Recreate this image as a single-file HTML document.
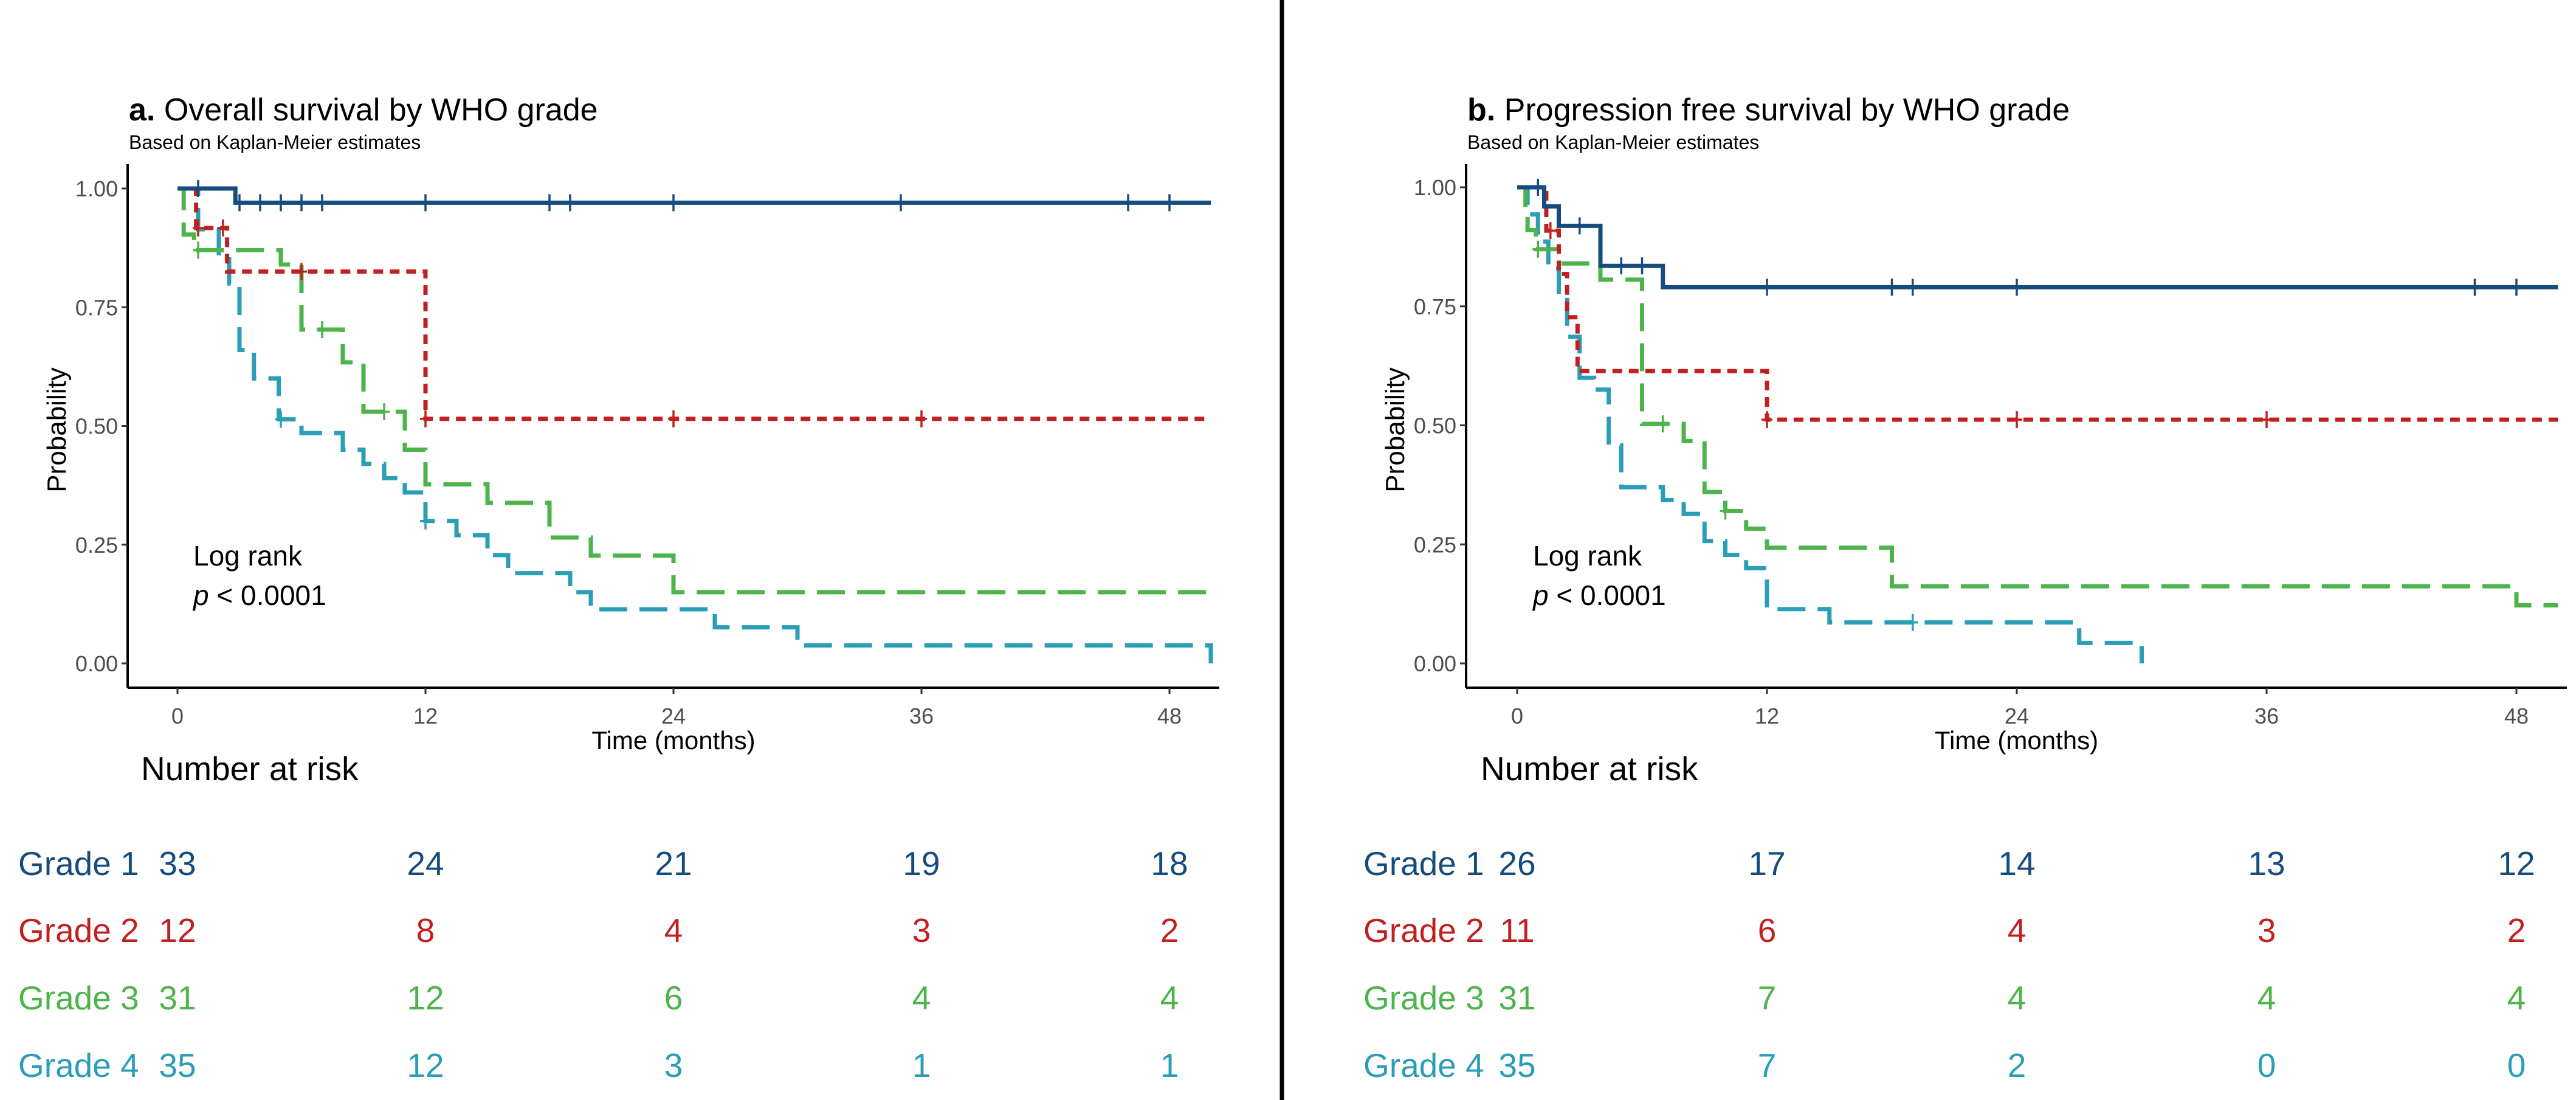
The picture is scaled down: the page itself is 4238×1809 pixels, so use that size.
<!DOCTYPE html>
<html><head><meta charset="utf-8"><style>
html,body{margin:0;padding:0;background:#fff;}
svg{display:block;font-family:"Liberation Sans",sans-serif;}
</style></head><body>
<svg id="fig" width="4238" height="1809" viewBox="0 0 4238 1809" xmlns="http://www.w3.org/2000/svg">
<rect width="4238" height="1809" fill="#fff"/>
<line x1="2109" y1="0" x2="2109" y2="1809" stroke="#000" stroke-width="7"/>
<g id="pa"></g>
<g id="pb"></g>
</svg>
<script>
// ---- Data ----
const xTicks = [0, 12, 24, 36, 48];
const yTicks = [0, 0.25, 0.5, 0.75, 1];
const yTickLabels = ["0.00", "0.25", "0.50", "0.75", "1.00"];
const gradeNames = ["Grade 1", "Grade 2", "Grade 3", "Grade 4"];

// Panel a: overall survival
const osG1Times = [0, 2.8, 50];
const osG1Surv  = [1, 0.97, 0.97];
const osG1Cens  = [1, 3, 4, 5, 6, 7, 12, 18, 19, 24, 35, 46, 48];
const osG2Times = [0, 0.9, 2.4, 12, 50];
const osG2Surv  = [1, 0.917, 0.825, 0.515, 0.515];
const osG2Cens  = [1, 2.2, 6, 12, 24, 36];
const osG3Times = [0, 0.3, 0.8, 5, 6, 8, 9, 11, 12, 15, 18, 20, 24, 50];
const osG3Surv  = [1, 0.903, 0.87, 0.84, 0.703, 0.634, 0.53, 0.45, 0.377, 0.338, 0.265, 0.227, 0.15, 0.15];
const osG3Cens  = [1, 7, 10];
const osG4Times = [0, 1, 2, 2.5, 3, 3.7, 4.9, 6, 8, 9, 10, 11, 12, 13.5, 15, 16, 19, 20, 26, 30, 50];
const osG4Surv  = [1, 0.914, 0.857, 0.80, 0.66, 0.60, 0.514, 0.485, 0.45, 0.42, 0.39, 0.36, 0.30, 0.27, 0.228, 0.19, 0.15, 0.114, 0.076, 0.038, 0];
const osG4Cens  = [5, 12];
const osRisk = [[33, 24, 21, 19, 18], [12, 8, 4, 3, 2], [31, 12, 6, 4, 4], [35, 12, 3, 1, 1]];

// Panel b: progression free survival
const pfsG1Times = [0, 1.3, 2, 4, 7, 50];
const pfsG1Surv  = [1, 0.96, 0.919, 0.835, 0.79, 0.79];
const pfsG1Cens  = [1, 3, 5, 6, 12, 18, 19, 24, 46, 48];
const pfsG2Times = [0, 1.4, 2, 2.4, 2.9, 12, 50];
const pfsG2Surv  = [1, 0.909, 0.818, 0.727, 0.614, 0.512, 0.512];
const pfsG2Cens  = [1, 1.6, 12, 24, 36];
const pfsG3Times = [0, 0.4, 0.5, 0.9, 2, 4, 6, 8, 9, 10, 11, 12, 18, 48, 50];
const pfsG3Surv  = [1, 0.956, 0.91, 0.87, 0.84, 0.806, 0.503, 0.467, 0.36, 0.32, 0.283, 0.243, 0.162, 0.122, 0.122];
const pfsG3Cens  = [1, 7, 10];
const pfsG4Times = [0, 0.5, 1, 1.5, 2, 2.4, 3, 3.7, 4.4, 5, 7, 8, 9, 10, 11, 12, 15, 27, 30];
const pfsG4Surv  = [1, 0.943, 0.886, 0.829, 0.77, 0.686, 0.60, 0.575, 0.458, 0.37, 0.343, 0.314, 0.257, 0.228, 0.2, 0.114, 0.086, 0.043, 0];
const pfsG4Cens  = [19];
const pfsRisk = [[26, 17, 14, 13, 12], [11, 6, 4, 3, 2], [31, 7, 4, 4, 4], [35, 7, 2, 0, 0]];

const colors = ["#164b7d", "#c2201f", "#4db34b", "#2a9db7"];
const dashes = ["none", "16 11", "46 20", "46 20"];

const NS = "http://www.w3.org/2000/svg";
function mk(parent, tag, attrs, text){
  const e = document.createElementNS(NS, tag);
  for (const k in attrs) e.setAttribute(k, attrs[k]);
  if (text !== undefined) e.textContent = text;
  parent.appendChild(e);
  return e;
}

function panel(g, cfg){
  const x = t => cfg.x0 + t * cfg.pxm;
  const y = p => cfg.yb - p * (cfg.yb - cfg.yt);
  const tt = mk(g, "text", {x: cfg.ax + 2, y: 198, "font-size": 52, fill: "#000"});
  
  
  mk(tt, "tspan", {"font-weight": "bold"}, cfg.letter + " ");
  mk(tt, "tspan", {}, cfg.title);
  const st = mk(g, "text", {x: cfg.ax + 2, y: 245, "font-size": 32, fill: "#000"}, "Based on Kaplan-Meier estimates");
  
  
  const ya = mk(g, "line", {x1: cfg.ax, y1: 270, x2: cfg.ax, y2: 1131, stroke: "#000", "stroke-width": 4});
  
  
  const xa = mk(g, "line", {x1: cfg.ax, y1: 1131, x2: cfg.xr, y2: 1131, stroke: "#000", "stroke-width": 4});
  
  
  yTicks.forEach((v, i) => {
    const tl = mk(g, "line", {x1: cfg.ax - 10, y1: y(v), x2: cfg.ax, y2: y(v), stroke: "#333", "stroke-width": 3});
    
    
    const lb = mk(g, "text", {x: cfg.ax - 16, y: y(v) + 13, "font-size": 36, fill: "#4d4d4d", "text-anchor": "end"}, yTickLabels[i]);
    
    
  });
  xTicks.forEach(v => {
    const tl = mk(g, "line", {x1: x(v), y1: 1131, x2: x(v), y2: 1141, stroke: "#333", "stroke-width": 3});
    
    
    const lb = mk(g, "text", {x: x(v), y: 1190, "font-size": 36, fill: "#4d4d4d", "text-anchor": "middle"}, String(v));
    
    
  });
  const xt = mk(g, "text", {x: (cfg.ax + cfg.xr) / 2, y: 1232, "font-size": 42, fill: "#000", "text-anchor": "middle"}, "Time (months)");
  
  
  const yt = mk(g, "text", {x: 0, y: 0, "font-size": 44, fill: "#000", "text-anchor": "middle", transform: `translate(${cfg.ax - 102},707) rotate(-90)`}, "Probability");
  
  
  for (let gi = 3; gi >= 0; gi--){
    const T = cfg.times[gi], S = cfg.surv[gi];
    let d = `M${x(T[0])},${y(S[0])}`;
    for (let i = 1; i < T.length; i++){
      d += ` H${x(T[i])} V${y(S[i])}`;
    }
    const p = mk(g, "path", {d: d, fill: "none", stroke: colors[gi], "stroke-width": 7, "stroke-dasharray": dashes[gi]});
    
    
    cfg.cens[gi].forEach(c => {
      let v = S[0];
      for (let i = 0; i < T.length; i++) if (T[i] <= c) v = S[i];
      const m = mk(g, "path", {d: `M${x(c)},${y(v) - 14}V${y(v) + 14}M${x(c) - 9},${y(v)}H${x(c) + 9}`, stroke: colors[gi], "stroke-width": 3.5, fill: "none"});
      
      
    });
  }
  const lr = mk(g, "text", {x: cfg.x0 + 26, y: 930, "font-size": 46, fill: "#000"}, "Log rank");
  
  
  const pv = mk(g, "text", {x: cfg.x0 + 26, y: 995, "font-size": 46, fill: "#000"});
  
  
  mk(pv, "tspan", {"font-style": "italic"}, "p");
  mk(pv, "tspan", {}, " < 0.0001");
  const nr = mk(g, "text", {x: cfg.x0 - 60, y: 1283, "font-size": 55, fill: "#000"}, "Number at risk");
  
  
  const rowY = [1439, 1549, 1660, 1771];
  gradeNames.forEach((gn, gi) => {
    const l = mk(g, "text", {x: cfg.gx, y: rowY[gi], "font-size": 55, fill: colors[gi]}, gn);
    
    
    cfg.risk[gi].forEach((n, j) => {
      const t = mk(g, "text", {x: x(xTicks[j]), y: rowY[gi], "font-size": 55, fill: colors[gi], "text-anchor": "middle"}, String(n));
      
      
    });
  });
}

panel(document.getElementById("pa"), {
  letter: "a.", title: "Overall survival by WHO grade",
  ax: 210, xr: 2006, x0: 292, pxm: 34.0, yt: 310, yb: 1091, gx: 30,
  times: [osG1Times, osG2Times, osG3Times, osG4Times],
  surv: [osG1Surv, osG2Surv, osG3Surv, osG4Surv],
  cens: [osG1Cens, osG2Cens, osG3Cens, osG4Cens],
  risk: osRisk
});
panel(document.getElementById("pb"), {
  letter: "b.", title: "Progression free survival by WHO grade",
  ax: 2412, xr: 4223, x0: 2496, pxm: 34.25, yt: 308, yb: 1091, gx: 2243,
  times: [pfsG1Times, pfsG2Times, pfsG3Times, pfsG4Times],
  surv: [pfsG1Surv, pfsG2Surv, pfsG3Surv, pfsG4Surv],
  cens: [pfsG1Cens, pfsG2Cens, pfsG3Cens, pfsG4Cens],
  risk: pfsRisk
});
</script>
</body></html>
